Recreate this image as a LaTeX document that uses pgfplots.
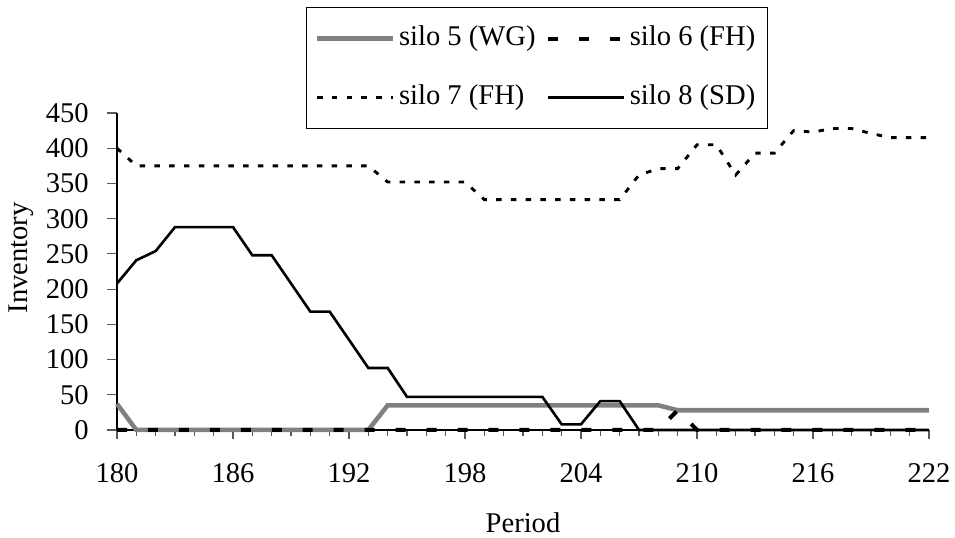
\documentclass[12pt,border=0pt]{standalone}
\usepackage{fontspec}
\setmainfont{Liberation Serif}
\usepackage{pgfplots}
\pgfplotsset{compat=1.18}

\begin{document}
\begin{tikzpicture}
\begin{axis}[
  name=ax,
  scale only axis,
  width=341pt, height=133.1pt,
  xmin=180, xmax=222, ymin=0, ymax=450,
  xtick={180,186,...,222},
  ytick={0,50,...,450},
  minor x tick num=5,
  axis x line=bottom, axis y line=left,
  axis line style={-, black, line width=0.5pt},
  tick align=outside,
  major tick length=4pt, minor tick length=2.5pt,
  every tick/.style={black!65, line width=0.5pt},
  /pgf/number format/assume math mode=true,
  /pgf/number format/1000 sep={},
  yticklabel style={xshift=-3.7pt},
  xticklabel style={yshift=-6pt},
  xlabel={Period},
  ylabel={Inventory},
  xlabel style={at={(axis description cs:0.5,0)}, anchor=center, yshift=-39.1pt},
  ylabel style={at={(axis description cs:0,0.543)}, anchor=center, yshift=40.3pt},
  clip=false,
  legend columns=2,
  legend cell align=left,
  legend image code/.code={\draw[#1] (0pt,0pt) -- (32pt,0pt);},
  legend style={
    at={(axis description cs:0.517,1)}, anchor=north, yshift=44.5pt,
    draw=black, line width=0.5pt,
    inner xsep=3.5pt, inner ysep=7pt,
    nodes={inner xsep=1.5pt, inner ysep=0pt, text height=0.75em, text depth=0.25em},
    /tikz/every even column/.append style={column sep=2.9pt},
    row sep=12.8pt,
  },
]
% silo 5 (WG)
\addplot[color=black!50, line width=1.9pt] coordinates {
 (180,37) (181,0) (182,0) (183,0) (184,0) (185,0) (186,0) (187,0) (188,0)
 (189,0) (190,0) (191,0) (192,0) (193,0) (194,35) (195,35) (196,35) (197,35)
 (198,35) (199,35) (200,35) (201,35) (202,35) (203,35) (204,35) (205,35)
 (206,35) (207,35) (208,35) (209,28) (210,28) (211,28) (212,28) (213,28)
 (214,28) (215,28) (216,28) (217,28) (218,28) (219,28) (220,28) (221,28) (222,28)
};
\addlegendentry{silo 5 (WG)}
% silo 6 (FH)
\addplot[color=black, line width=1.7pt, dash pattern=on 4.2pt off 8.8pt] coordinates {
 (180,0) (181,0) (182,0) (183,0) (184,0) (185,0) (186,0) (187,0) (188,0)
 (189,0) (190,0) (191,0) (192,0) (193,0) (194,0) (195,0) (196,0) (197,0)
 (198,0) (199,0) (200,0) (201,0) (202,0) (203,0) (204,0) (205,0) (206,0)
 (207,0) (208,0) (209,28) (210,0) (211,0) (212,0) (213,0) (214,0) (215,0)
 (216,0) (217,0) (218,0) (219,0) (220,0) (221,0) (222,0)
};
\addlegendentry{silo 6 (FH)}
% silo 7 (FH)
\addplot[color=black, line width=1.2pt, dash pattern=on 2.3pt off 3.9pt] coordinates {
 (180,400) (181,375) (182,375) (183,375) (184,375) (185,375) (186,375)
 (187,375) (188,375) (189,375) (190,375) (191,375) (192,375) (193,375)
 (194,352) (195,352) (196,352) (197,352) (198,352) (199,327) (200,327)
 (201,327) (202,327) (203,327) (204,327) (205,327) (206,327) (207,362)
 (208,371) (209,371) (210,405) (211,405) (212,362) (213,393) (214,393)
 (215,425) (216,423) (217,428) (218,428) (219,421) (220,415) (221,415) (222,415)
};
\addlegendentry{silo 7 (FH)}
% silo 8 (SD)
\addplot[color=black, line width=1.1pt] coordinates {
 (180,208) (181,241) (182,254) (183,288) (184,288) (185,288) (186,288)
 (187,248) (188,248) (189,208) (190,168) (191,168) (192,128) (193,88)
 (194,88) (195,47) (196,47) (197,47) (198,47) (199,47) (200,47) (201,47)
 (202,47) (203,8) (204,8) (205,41) (206,41) (207,0) (208,0) (209,0) (210,0)
 (211,0) (212,0) (213,0) (214,0) (215,0) (216,0) (217,0) (218,0) (219,0)
 (220,0) (221,0) (222,0)
};
\addlegendentry{silo 8 (SD)}
\end{axis}
\pgfresetboundingbox
\path ([xshift=-49.14pt,yshift=-45.36pt]ax.south west) rectangle ([xshift=10.92pt,yshift=47.46pt]ax.north east);
\end{tikzpicture}
\end{document}
